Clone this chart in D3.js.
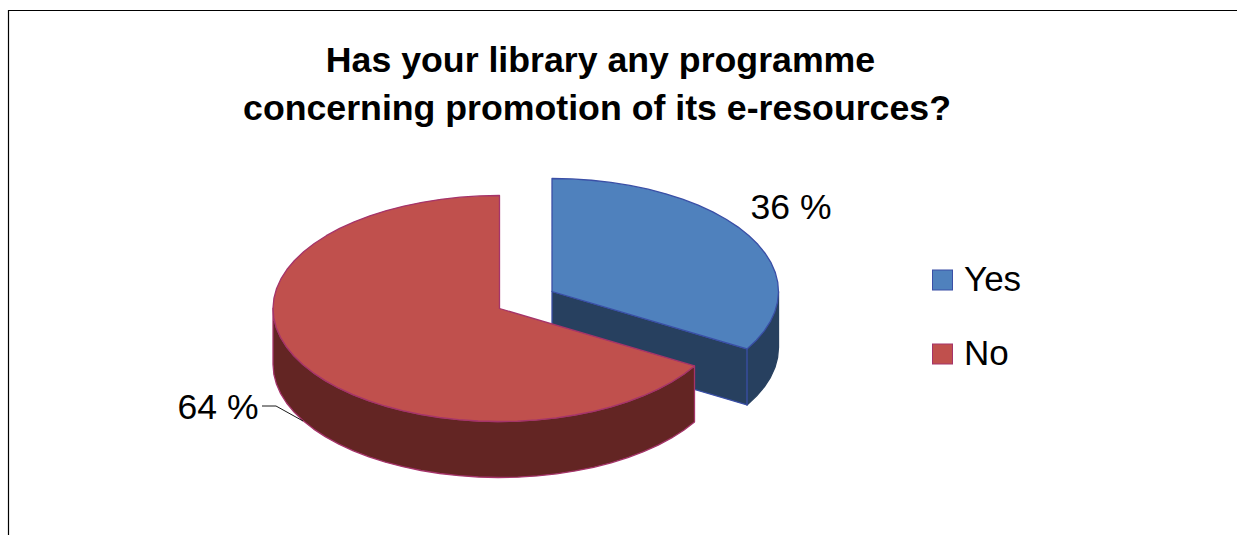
<!DOCTYPE html>
<html>
<head>
<meta charset="utf-8">
<script src="https://cdn.jsdelivr.net/npm/d3@7"></script>
<style>
  html, body { margin: 0; padding: 0; background: #fff; }
  svg { display: block; }
  text { font-family: "Liberation Sans", Arial, sans-serif; fill: #000; }
</style>
</head>
<body>
<svg id="chart" width="1237" height="535"></svg>
<script>
// Survey answers, in percent
const categories = ["Yes", "No"];
const shares = [36, 64];
const shareLabels = ["36 %", "64 %"];
const titleLines = ["Has your library any programme", "concerning promotion of its e-resources?"];

const topColors = ["#4F81BD", "#C0504D"];
const sideColors = ["#27405F", "#632523"];
const edgeColors = ["#3A4FA6", "#A5346A"];

const width = 1237, height = 535;
const svg = d3.select("#chart");

// Frame, open on the right and at the bottom
svg.append("path")
  .attr("d", d3.line()([[8.5, height], [8.5, 10.5], [width, 10.5]]))
  .attr("fill", "none").attr("stroke", "#000").attr("stroke-width", 1.2);

// Title
const titleCentres = [600.5, 597];
svg.append("g").selectAll("text").data(titleLines).join("text")
  .attr("x", (d, i) => titleCentres[i]).attr("y", (d, i) => 72 + i * 48)
  .attr("text-anchor", "middle")
  .attr("font-weight", "bold").attr("font-size", 35.7)
  .text(d => d);

// Pie geometry: tilted disc seen from above, with each slice pulled out from the centre
const rx = 226.5, ry = 113, depth = 56;
const hubs = [[552, 291.5], [499.5, 308.5]];
const tilt = 1.4;

const arcs = d3.pie().value(d => d).sort(null)(shares);

// Angle on the page ellipse for a pie angle measured clockwise from twelve o'clock
const tilted = a => {
  const t = Math.atan2(tilt * Math.sin(a), Math.cos(a));
  return t < -1e-9 ? t + 2 * Math.PI : t;
};
const onRim = (hub, t, drop = 0) =>
  [hub[0] + rx * Math.sin(t), hub[1] - ry * Math.cos(t) + drop];

// Rim points between two angles, stepped coarsely for the faceted outline
const rimPoints = (hub, t0, t1, drop = 0) => {
  const n = Math.max(2, Math.round((t1 - t0) / (Math.PI / 36)));
  return d3.range(n + 1).map(i => onRim(hub, t0 + (t1 - t0) * i / n, drop));
};

const line = d3.line();
const closed = pts => line(pts) + "Z";

const slices = arcs.map((a, i) => {
  const t0 = tilted(a.startAngle);
  const t1 = a.endAngle >= 2 * Math.PI - 1e-9 ? 2 * Math.PI : tilted(a.endAngle);
  return { i, hub: hubs[i], t0, t1 };
});

const shape = (d, fill, stroke) =>
  svg.append("path").attr("d", d)
    .attr("fill", fill)
    .attr("stroke", stroke).attr("stroke-width", 1.3).attr("stroke-linejoin", "round");

// Each slice is painted back to front: side walls first, top face last
slices.forEach(s => {
  const side = sideColors[s.i], top = topColors[s.i], edge = edgeColors[s.i];

  // Outer wall: only the part of the rim facing the viewer
  const vis0 = Math.max(s.t0, Math.PI / 2);
  const vis1 = Math.min(s.t1, 3 * Math.PI / 2);
  if (vis1 > vis0) {
    const upper = rimPoints(s.hub, vis0, vis1);
    const lower = rimPoints(s.hub, vis0, vis1, depth).reverse();
    shape(closed(upper.concat(lower)), side, s.i === 0 ? side : edge);
  }

  // Cut wall running from the hub to the last edge of the blue slice
  if (s.i === 0) {
    const corner = onRim(s.hub, s.t1);
    shape(closed([s.hub, corner, [corner[0], corner[1] + depth], [s.hub[0], s.hub[1] + depth]]), side, edge);
  }

  // Top face
  shape(closed([s.hub].concat(rimPoints(s.hub, s.t0, s.t1))), top, edge);
});

// Value labels
const labelSpots = [[791, 219], [218, 419]];
svg.append("g").selectAll("text").data(shareLabels).join("text")
  .attr("x", (d, i) => labelSpots[i][0]).attr("y", (d, i) => labelSpots[i][1])
  .attr("text-anchor", "middle").attr("font-size", 35.5)
  .text(d => d);

// Leader line from the larger slice to its label
svg.append("path")
  .attr("d", line([[262, 406], [276, 406], [303, 421]]))
  .attr("fill", "none").attr("stroke", "#000").attr("stroke-width", 0.9);

// Legend
const legendY = d3.scalePoint().domain(categories).range([280, 354]);
const legend = svg.append("g").selectAll("g").data(categories).join("g")
  .attr("transform", d => `translate(0,${legendY(d)})`);
legend.append("rect")
  .attr("x", 932.5).attr("y", -10).attr("width", 20).attr("height", 20)
  .attr("fill", (d, i) => topColors[i]).attr("stroke", (d, i) => edgeColors[i]);
legend.append("text")
  .attr("x", 964).attr("y", 11).attr("font-size", 35)
  .text(d => d);
</script>
</body>
</html>
